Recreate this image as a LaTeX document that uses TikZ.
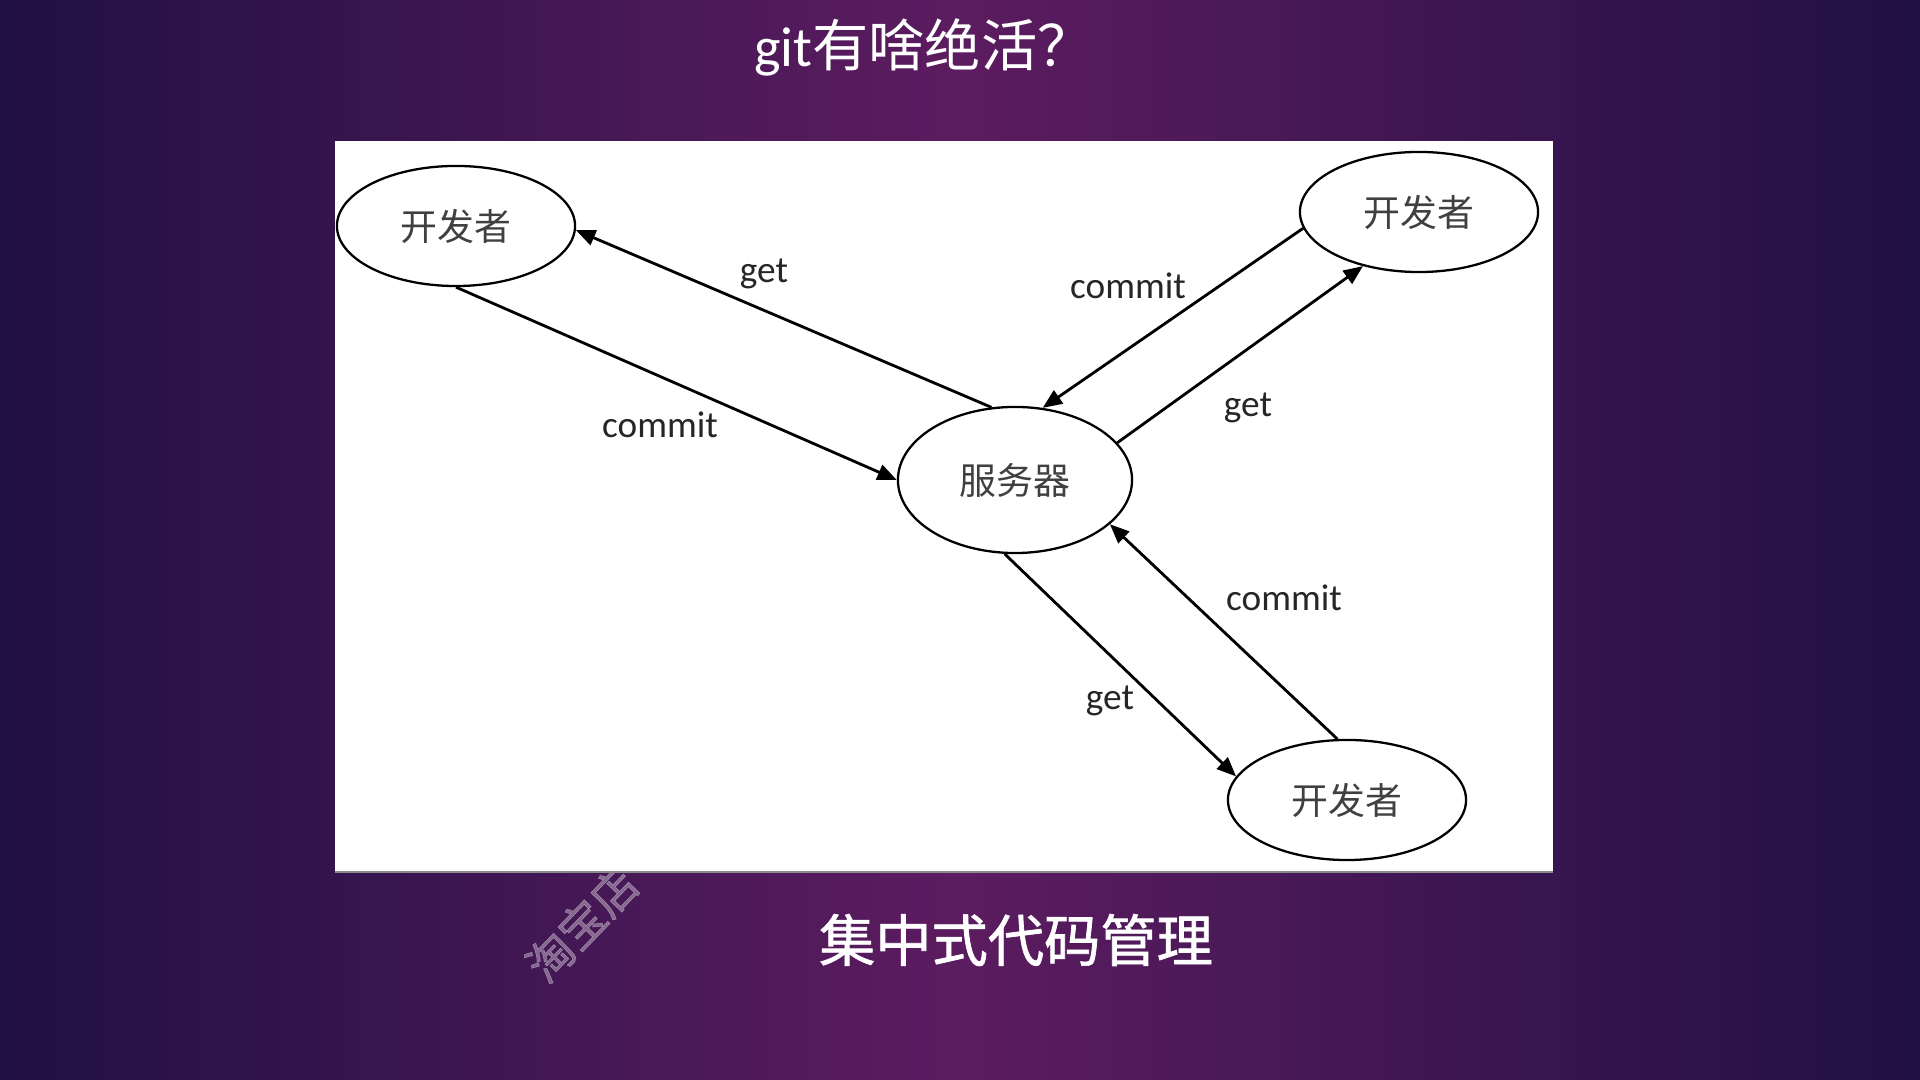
\documentclass[tikz,border=0pt]{standalone}
\usepackage{fontspec}
\setmainfont{Carlito}
\newfontfamily\cjk{Noto Sans CJK SC}
\newfontfamily\cjkbold[FakeBold=1.2]{Noto Sans CJK SC}
\usetikzlibrary{shapes.geometric,arrows.meta}
\definecolor{bgin}{RGB}{92,28,96}
\definecolor{bgout}{RGB}{32,16,68}

\begin{document}
\begin{tikzpicture}[x=0.01cm,y=-0.01cm,
	dev/.style={ellipse,draw,line width=0.65pt,minimum width=2.38cm,minimum height=1.2cm,inner sep=0pt,font=\cjk\fontsize{10.5}{12}\selectfont,text=black!75},
	flow/.style={-{Triangle[length=5.5pt,width=4.5pt]},line width=0.8pt},
	lbl/.style={font=\fontsize{10.6}{12}\selectfont,text=black!85}]
	%background
	\useasboundingbox (0,0) rectangle (1920,1080);
	\shade[left color=bgout,right color=bgout,middle color=bgin] (0,0) rectangle (1920,1080);
	\node[rotate=46,text=white,opacity=0.35,font=\cjkbold\fontsize{13}{14}\selectfont] (mark) at (582,924) {淘宝店}; %watermark
	\fill[white] (335,141) rectangle (1553,872);
	\draw[black!45,line width=0.4pt] (335,872) -- (1553,872);

	%nodes
	\node[dev] (dev1) at (456,226) {开发者};
	\node[dev] (dev2) at (1419,212) {开发者};
	\node[dev] (dev3) at (1347,800) {开发者};
	\node[dev,minimum width=2.34cm,minimum height=1.46cm] (srv) at (1015,480) {服务器};

	%arrows
	\draw[flow] (srv.108) -- (dev1.-2); %get 1
	\draw[flow] (dev1.-90) -- (srv.180); %commit 1
	\draw[flow] (dev2.188) -- (srv.69); %commit 2
	\draw[flow] (srv.20) -- (dev2.-136); %get 2
	\draw[flow] (dev3.99) -- (srv.-25); %commit 3
	\draw[flow] (srv.-98) -- (dev3.168); %get 3

	%labels
	\node[lbl] (get1) at (764,274) {get};
	\node[lbl] (commit1) at (660,425) {commit};
	\node[lbl] (commit2) at (1128,286) {commit};
	\node[lbl] (get2) at (1248,408) {get};
	\node[lbl] (commit3) at (1284,598) {commit};
	\node[lbl] (get3) at (1110,701) {get};

	%titles
	\node[text=white,font=\fontsize{16}{18}\selectfont] (title) at (924,47) {git{\cjk 有啥绝活？}};
	\node[text=white,font=\cjkbold\fontsize{16}{18}\selectfont] (caption) at (1016,940) {集中式代码管理};
\end{tikzpicture}
\end{document}
